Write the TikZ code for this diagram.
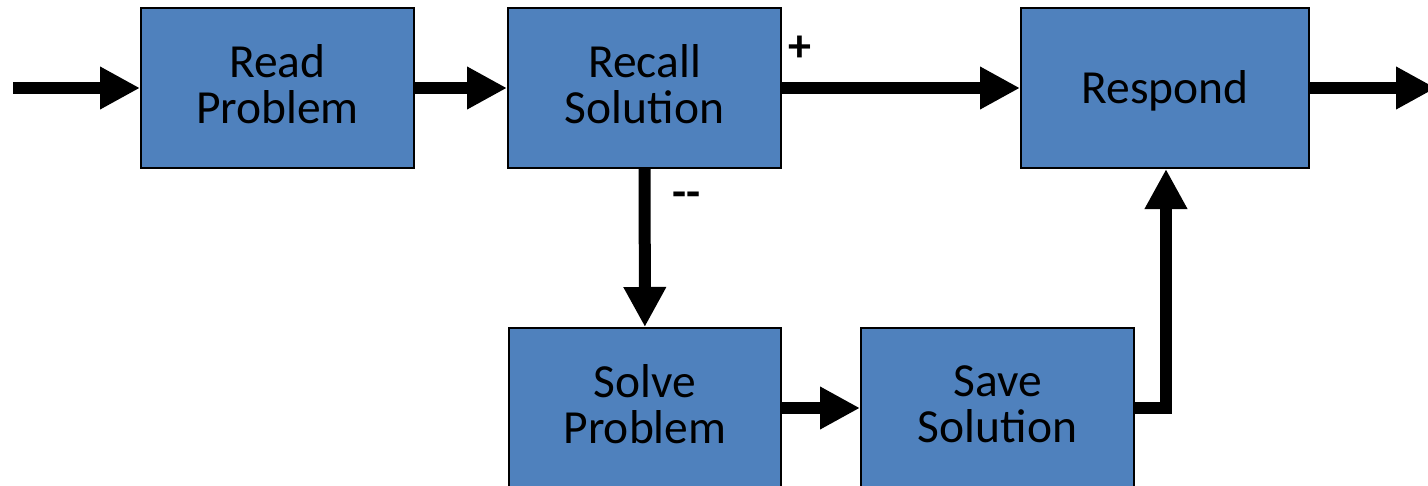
\documentclass[tikz,border=0pt]{standalone}
\usepackage{fontspec}
\setmainfont{Carlito}
\usetikzlibrary{arrows.meta}
\definecolor{boxblue}{HTML}{4F81BD}
\begin{document}
\begin{tikzpicture}[x=1pt,y=-1pt,
  block/.style={draw=black, line width=2pt, fill=boxblue, minimum height=160pt, inner sep=0pt},
  caption/.style={align=center, inner sep=0pt, font=\fontsize{47.5}{46}\selectfont},
  flow/.style={line width=12pt, -{Triangle[length=40pt,width=40pt]}},
  sign/.style={font=\bfseries\fontsize{46}{46}\selectfont}]
\useasboundingbox (0,0) rectangle (1428,485);
\clip (0,0) rectangle (1428,485);

% process boxes
\node[block, minimum width=273pt] (read)    at (277.5,88) {};
\node[block, minimum width=273pt] (recall)  at (644.5,88) {};
\node[block, minimum width=288pt] (respond) at (1165,88)  {};
\node[block, minimum width=272pt] (solve)   at (645,408)  {};
\node[block, minimum width=273pt] (save)    at (997.5,408) {};

% box captions
\node[caption] (read-t)    at ([yshift=4pt]read.center)    {Read\\Problem};
\node[caption] (recall-t)  at ([yshift=4pt]recall.center)  {Recall\\Solution};
\node[caption] (respond-t) at ([yshift=-3pt]respond.center) {Respond};
\node[caption] (solve-t)   at ([yshift=4pt]solve.center)   {Solve\\Problem};
\node[caption] (save-t)    at ([yshift=4pt]save.center)    {Save\\Solution};

% open ends of the chain
\coordinate (in)  at (13,88);
\coordinate (out) at (1436,88);

% connectors
\draw[flow] (in) -- (read);
\draw[flow] (read) -- (recall);
\draw[flow] (recall) -- (respond);
\draw[flow] (respond) -- (out);
\draw[flow] (recall) -- (solve);
\draw[flow] (solve) -- (save);
\draw[flow, line join=miter] (save.east) -| (respond.south -| 1166,0);

% branch labels
\node[sign] (plus)  at (800,49)  {+};
\node[sign] (minus) at (687,200) {-{}-};
\end{tikzpicture}
\end{document}
